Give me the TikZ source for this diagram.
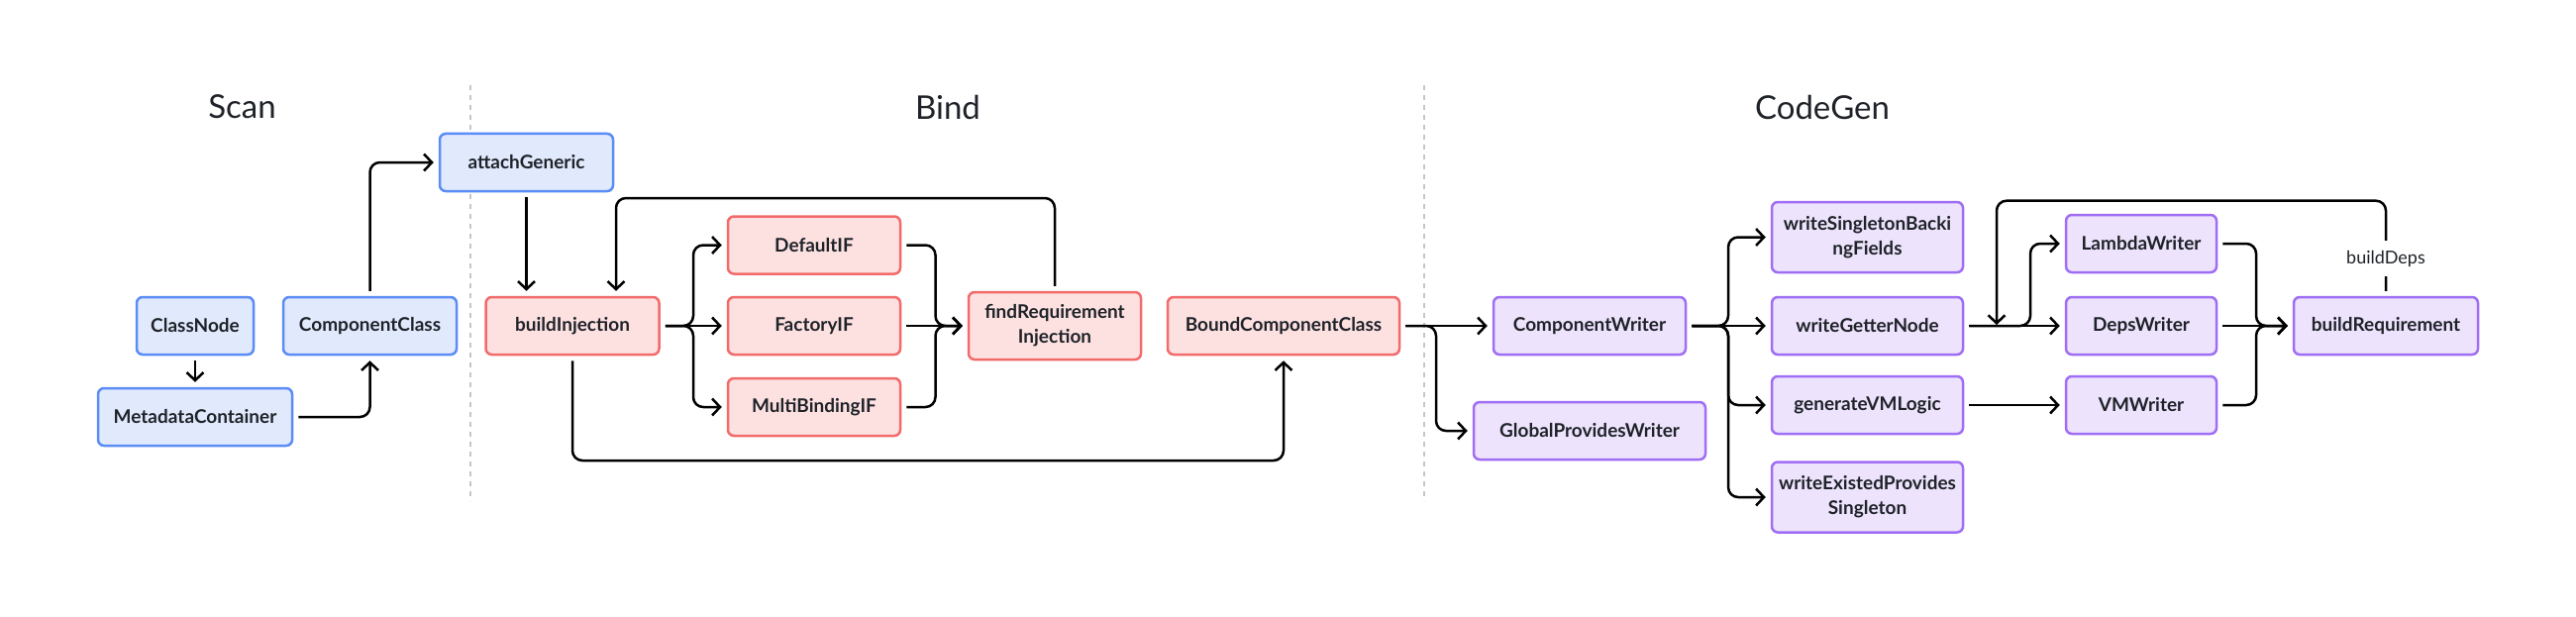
\documentclass[tikz,border=0pt]{standalone}
\usepackage{fontspec}
\setmainfont{Lato}
\usetikzlibrary{arrows.meta}
\definecolor{blueF}{HTML}{E1E9FD}
\definecolor{blueD}{HTML}{5B8DF6}
\definecolor{redF}{HTML}{FDE1E1}
\definecolor{redD}{HTML}{F26B6B}
\definecolor{purF}{HTML}{EDE3FC}
\definecolor{purD}{HTML}{9F6EF5}
\definecolor{txt}{HTML}{1F2329}
\definecolor{sep}{HTML}{C4C6CC}
\tikzset{
  box/.style={draw, line width=2.5pt, rounded corners=6pt, align=center, inner sep=0pt,
    text=txt, font=\bfseries\fontsize{19}{25}\selectfont, minimum height=58pt},
  bluebox/.style={box, fill=blueF, draw=blueD},
  redbox/.style={box, fill=redF, draw=redD},
  purbox/.style={box, fill=purF, draw=purD},
  conn/.style={line width=2.5pt, rounded corners=10pt, -{Straight Barb[length=8pt,width=17pt,line width=2.5pt]},
    shorten >=5pt, shorten <=5pt},
  title/.style={font=\fontsize{33}{36}\selectfont, text=txt},
  seprule/.style={draw=sep, line width=2.5pt, dash pattern=on 5pt off 5pt}
}
\begin{document}
\begin{tikzpicture}[x=1pt,y=-1pt]
\useasboundingbox[fill=white] (0,0) rectangle (2601,623);
% titles
\node[title] (tscan) at (244.5,108) {Scan};
\node[title] (tbind) at (957,108) {Bind};
\node[title] (tcode) at (1840,108) {CodeGen};
% separators
\coordinate (s1a) at (475,86); \coordinate (s1b) at (475,506);
\coordinate (s2a) at (1438,86); \coordinate (s2b) at (1438,506);
\draw[seprule] (s1a) -- (s1b);
\draw[seprule] (s2a) -- (s2b);
% Scan
\node[bluebox, minimum width=118pt] (classnode) at (197,329) {ClassNode};
\node[bluebox, minimum width=196pt] (meta) at (197,421) {MetadataContainer};
\node[bluebox, minimum width=175pt] (compclass) at (373.5,329) {ComponentClass};
\node[bluebox, minimum width=175pt] (attach) at (531.5,164) {attachGeneric};
% Bind
\node[redbox, minimum width=175pt] (buildinj) at (578,329) {buildInjection};
\node[redbox, minimum width=174pt] (defif) at (822,247.5) {DefaultIF};
\node[redbox, minimum width=174pt] (facif) at (822,329) {FactoryIF};
\node[redbox, minimum width=174pt] (multiif) at (822,411) {MultiBindingIF};
\node[redbox, minimum width=174pt, minimum height=68pt] (findreq) at (1065,329) {findRequirement\\Injection};
\node[redbox, minimum width=234pt] (bcc) at (1296,329) {BoundComponentClass};
% CodeGen
\node[purbox, minimum width=194pt] (compw) at (1605,329) {ComponentWriter};
\node[purbox, minimum width=234pt] (globw) at (1605,435) {GlobalProvidesWriter};
\node[purbox, minimum width=193pt, minimum height=71pt] (wsbf) at (1885.5,239.5) {writeSingletonBacki\\ngFields};
\node[purbox, minimum width=193pt] (wgn) at (1885.5,329) {writeGetterNode};
\node[purbox, minimum width=193pt] (gvm) at (1885.5,409) {generateVMLogic};
\node[purbox, minimum width=193pt, minimum height=71pt] (weps) at (1885.5,502) {writeExistedProvides\\Singleton};
\node[purbox, minimum width=152pt] (lambda) at (2162,246) {LambdaWriter};
\node[purbox, minimum width=152pt] (deps) at (2162,329) {DepsWriter};
\node[purbox, minimum width=152pt] (vmw) at (2162,409) {VMWriter};
\node[purbox, minimum width=186pt] (breq) at (2409,329) {buildRequirement};
% Scan connectors
\draw[conn] (classnode) -- (meta);
\draw[conn] (meta.east) -| (compclass.south);
\draw[conn] (compclass.north) |- (attach.west);
\draw[conn] (attach.south) -- (attach.south |- buildinj.north);
% Bind connectors
\coordinate (bloop) at (622,200);
\draw[conn] (findreq.north) |- (bloop) -- (bloop |- buildinj.north);
\coordinate (fork1) at (700,329);
\draw[conn] (buildinj.east) -- (facif.west);
\draw[conn] (buildinj.east) -- (fork1) |- (defif.west);
\draw[conn] (buildinj.east) -- (fork1) |- (multiif.west);
\coordinate (merge1) at (944.5,329);
\draw[conn] (facif.east) -- (findreq.west);
\draw[conn] (defif.east) -| (merge1) -- (findreq.west);
\draw[conn] (multiif.east) -| (merge1) -- (findreq.west);
\coordinate (bbot) at (578,465);
\draw[conn] (buildinj.south) -- (bbot) -| (bcc.south);
% CodeGen connectors
\coordinate (fork2) at (1450,329);
\draw[conn] (bcc.east) -- (compw.west);
\draw[conn] (bcc.east) -- (fork2) |- (globw.west);
\coordinate (fork3) at (1745,329);
\draw[conn] (compw.east) -- (wgn.west);
\draw[conn] (compw.east) -- (fork3) |- (wsbf.west);
\draw[conn] (compw.east) -- (fork3) |- (gvm.west);
\draw[conn] (compw.east) -- (fork3) |- (weps.west);
\coordinate (fork4) at (2050,329);
\draw[conn] (wgn.east) -- (deps.west);
\draw[conn] (wgn.east) -- (fork4) |- (lambda.west);
\draw[conn] (gvm.east) -- (vmw.west);
\coordinate (merge2) at (2278,329);
\draw[conn] (deps.east) -- (breq.west);
\draw[conn] (lambda.east) -| (merge2) -- (breq.west);
\draw[conn] (vmw.east) -| (merge2) -- (breq.west);
\coordinate (cloop) at (2016,202.7);
\coordinate (cend) at (2016,329);
\draw[conn, shorten >=1pt] (breq.north) |- (cloop) -- (cend);
\node[fill=white, inner sep=0pt, minimum height=36pt, font=\fontsize{18}{20}\selectfont, text=txt] (bdeps) at (2409,261) {buildDeps};
\end{tikzpicture}
\end{document}
